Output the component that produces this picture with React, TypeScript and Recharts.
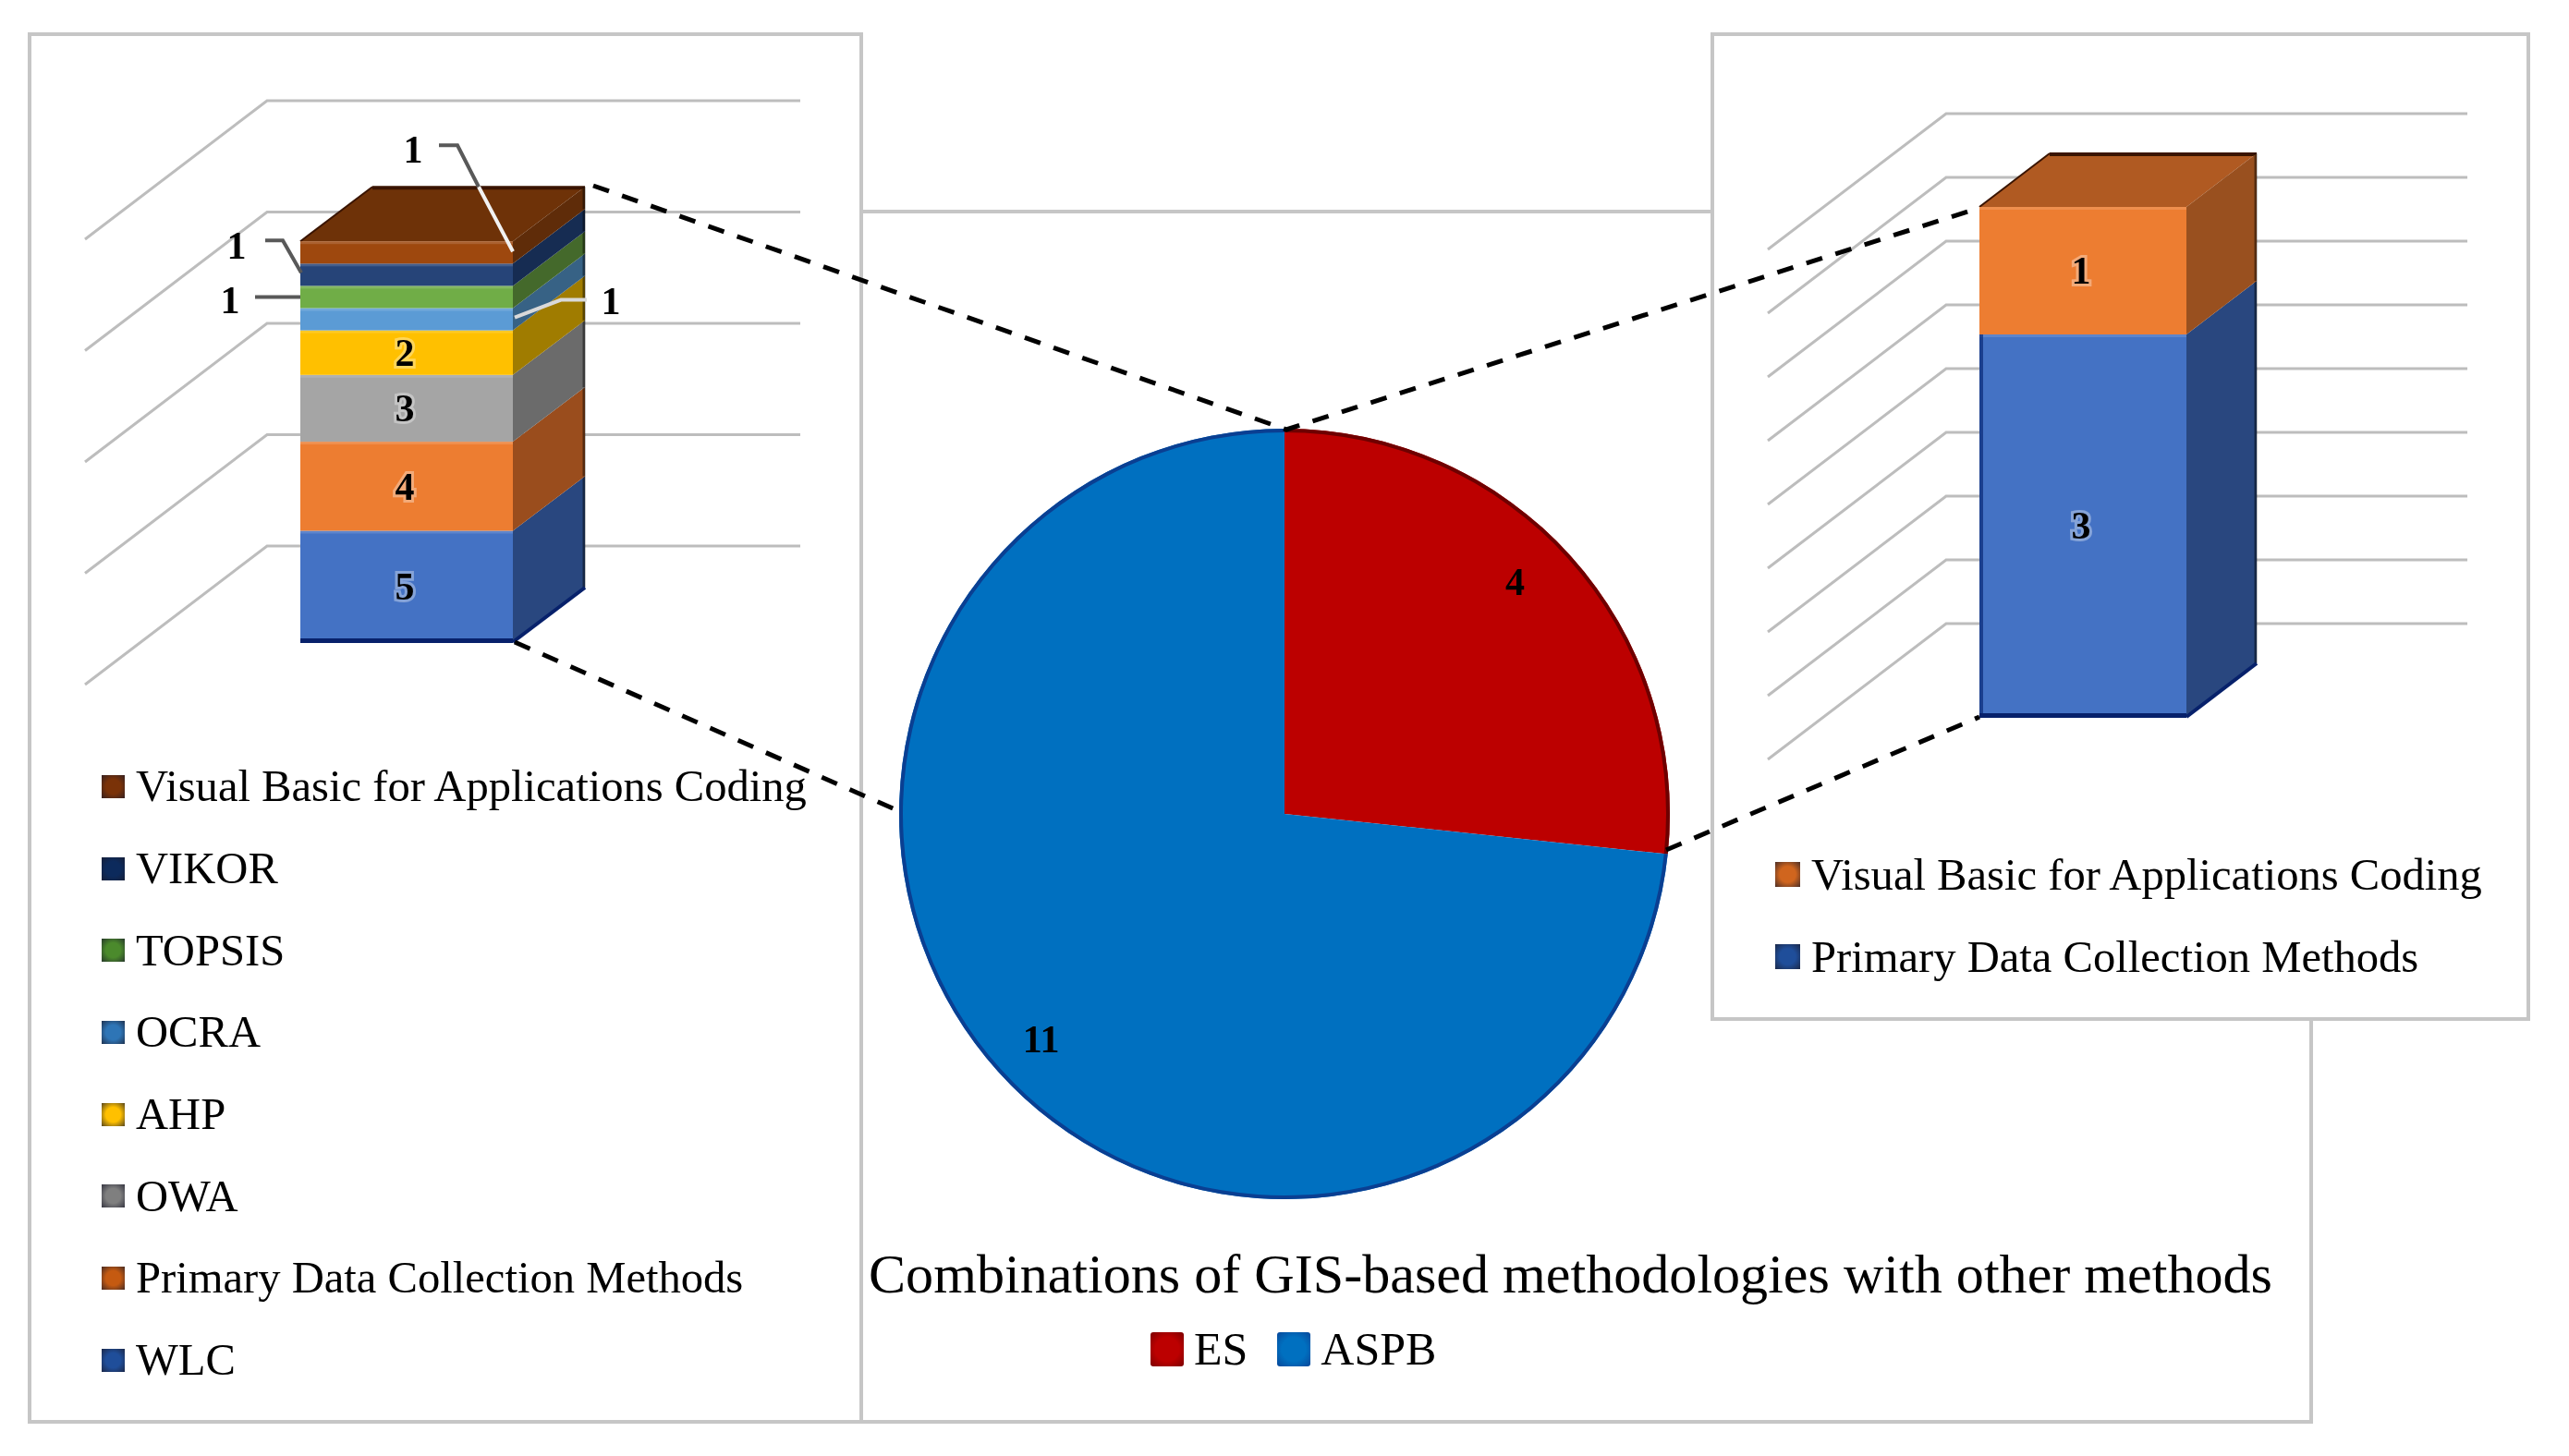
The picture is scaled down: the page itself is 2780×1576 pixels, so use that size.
import React from "react";
import {
  BarChart,
  Bar,
  XAxis,
  YAxis,
  CartesianGrid,
  LabelList,
  Legend,
  PieChart,
  Pie,
  Cell,
} from "recharts";

// main pie
const pieNames = ["ES", "ASPB"];
const pieValues = [4, 11];
const pieColors = ["#BC0000", "#0070C0"];
const pieRimColors = ["#6E0000", "#0A3F92"];
const pieLabelShift = [[-14, -14], [0, 7]];
const pieTitle = "Combinations of GIS-based methodologies with other methods";

// left stacked bar, bottom to top
const leftMethods = [
  "WLC",
  "Primary Data Collection Methods",
  "OWA",
  "AHP",
  "OCRA",
  "TOPSIS",
  "VIKOR",
  "Visual Basic for Applications Coding",
];
const leftValues = [5, 4, 3, 2, 1, 1, 1, 1];
const leftFront = ["#4472C4", "#ED7D31", "#A5A5A5", "#FFC000", "#5B9BD5", "#70AD47", "#264478", "#9E480E"];
const leftSide = ["#29477F", "#9A4D1D", "#6B6B6B", "#A07C00", "#376285", "#44692B", "#162C52", "#5F2C09"];
const leftSwatch = ["#1F4E9A", "#C55A11", "#7F7F7F", "#FFC000", "#2E75B6", "#4B8A2C", "#0C2A5C", "#7A3208"];
const leftTicks = [0, 5, 10, 15, 20];

// right stacked bar, bottom to top
const rightMethods = ["Primary Data Collection Methods", "Visual Basic for Applications Coding"];
const rightValues = [3, 1];
const rightFront = ["#4472C4", "#ED7D31"];
const rightSide = ["#29477F", "#99501F"];
const rightSwatch = ["#1F4E9A", "#D0651E"];
const rightTicks = [0, 0.5, 1, 1.5, 2, 2.5, 3, 3.5, 4];

const GRID = "#BDBDBD";
const FONT = "'Liberation Serif', serif";

const leftRow: any = { name: "methods" };
leftMethods.forEach((m, i) => (leftRow[m] = leftValues[i]));
const rightRow: any = { name: "methods" };
rightMethods.forEach((m, i) => (rightRow[m] = rightValues[i]));
const pieData = pieNames.map((name, i) => ({ name, value: pieValues[i] }));

// leader lines for the small segments, offsets from the segment centre
const leaders: any = {
  "Visual Basic for Applications Coding": {
    label: [7, -112],
    parts: [
      { color: "#595959", pts: [[35, -116], [55, -116], [78, -71]] },
      { color: "#F2F2F2", pts: [[78, -71], [115, -1]] },
    ],
  },
  VIKOR: { label: [-184, -32], parts: [{ color: "#595959", pts: [[-153, -37], [-134, -37], [-114, -2]] }] },
  TOPSIS: { label: [-191, 3], parts: [{ color: "#595959", pts: [[-164, 0], [-115, 0]] }] },
  OCRA: { label: [221, -20], parts: [{ color: "#D9D9D9", pts: [[195, -21], [167, -21], [117, -2]] }] },
};

// gridline drawn on the back wall plus its diagonal along the floor
function wallGrid(startX: number, endX: number, up: number, slantX: number, slantY: number) {
  return (props: any) => {
    const y = props.y1 - up;
    return (
      <path
        key={props.key ?? props.index ?? y}
        d={`M${startX + slantX},${y + slantY}L${startX},${y}L${endX},${y}`}
        fill="none"
        stroke={GRID}
        strokeWidth={3}
      />
    );
  };
}

// one stacked segment as a box: front, right side and, for the last one, the lid
function boxShape(side: string, lid: string | null, dx: number, dy: number, first: boolean, leftEdge: boolean) {
  return (props: any) => {
    const { x, y, width, height, fill } = props;
    const r = x + width;
    const b = y + height;
    return (
      <g>
        {lid && <polygon points={`${x},${y} ${x + dx},${y - dy} ${r + dx},${y - dy} ${r},${y}`} fill={lid} />}
        {lid && <line x1={x + dx} y1={y - dy + 1} x2={r + dx} y2={y - dy + 1} stroke="#3A1400" strokeWidth={4} />}
        {lid && <line x1={x} y1={y} x2={x + dx} y2={y - dy} stroke="#3A1400" strokeWidth={2} />}
        <polygon points={`${r},${y} ${r + dx},${y - dy} ${r + dx},${b - dy} ${r},${b}`} fill={side} />
        <line x1={r + dx - 1} y1={y - dy} x2={r + dx - 1} y2={b - dy} stroke="#000" strokeOpacity={0.45} strokeWidth={3} />
        <rect x={x} y={y} width={width} height={height} fill={fill} />
        <rect x={x} y={y} width={width} height={3} fill="#fff" fillOpacity={0.14} />
        {leftEdge && <rect x={x} y={y} width={4} height={height} fill="#0A2A78" fillOpacity={first ? 0.7 : 0} />}
        {first && <rect x={x} y={b - 4} width={width} height={5} fill="#07216B" />}
        {first && <line x1={r} y1={b} x2={r + dx} y2={b - dy} stroke="#07216B" strokeWidth={4} />}
      </g>
    );
  };
}

function segmentLabel(method: string, bold: boolean) {
  return (props: any) => {
    const { x, y, width, height, value } = props;
    const cx = x + width / 2;
    const cy = y + height / 2;
    const lead = leaders[method];
    const tx = lead ? cx + lead.label[0] : cx - 2;
    const ty = lead ? cy + lead.label[1] : cy;
    return (
      <g>
        {lead &&
          lead.parts.map((p: any, i: number) => (
            <polyline
              key={i}
              points={p.pts.map((q: number[]) => `${cx + q[0]},${cy + q[1]}`).join(" ")}
              fill="none"
              stroke={p.color}
              strokeWidth={4}
            />
          ))}
        <text
          x={tx}
          y={ty}
          dy="0.34em"
          textAnchor="middle"
          fontFamily={FONT}
          fontSize={42}
          fontWeight={bold ? "bold" : "normal"}
          fill="#000"
          stroke={lead ? "none" : "rgba(255,255,255,0.35)"}
          strokeWidth={lead ? 0 : 6}
          style={{ paintOrder: "stroke" }}
        >
          {value}
        </text>
      </g>
    );
  };
}

function methodLegend(names: string[], swatches: string[], rowHeight: number, swatchW: number) {
  return (props: any) => {
    const items = [...(props.payload || [])].reverse();
    return (
      <div style={{ fontFamily: FONT, fontSize: 48.6, color: "#000", whiteSpace: "nowrap" }}>
        {items.map((it: any) => (
          <div key={it.value} style={{ display: "flex", alignItems: "center", height: rowHeight }}>
            <span
              style={{
                display: "inline-block",
                width: swatchW,
                height: swatchW,
                marginRight: 12,
                background: `radial-gradient(circle, ${swatches[names.indexOf(it.value)]} 45%, #1a1a2a 120%)`,
              }}
            />
            {it.value}
          </div>
        ))}
      </div>
    );
  };
}

function pieLegend() {
  return (
    <div style={{ display: "flex", alignItems: "center", fontFamily: FONT, fontSize: 50, color: "#000" }}>
      {pieNames.map((n, i) => (
        <React.Fragment key={n}>
          <span
            style={{
              display: "inline-block",
              width: 36,
              height: 37,
              marginRight: 11,
              borderRadius: 3,
              background: `radial-gradient(circle, ${pieColors[i]} 50%, ${pieRimColors[i]} 110%)`,
            }}
          />
          <span style={{ marginRight: i === 0 ? 32 : 0 }}>{n}</span>
        </React.Fragment>
      ))}
    </div>
  );
}

function pieLabel(props: any) {
  const { cx, cy, midAngle, outerRadius, value, index } = props;
  const r = outerRadius * 0.85;
  const a = (-midAngle * Math.PI) / 180;
  return (
    <text
      x={cx + r * Math.cos(a) + pieLabelShift[index][0]}
      y={cy + r * Math.sin(a) + pieLabelShift[index][1]}
      dy="0.34em"
      textAnchor="middle"
      fontFamily={FONT}
      fontSize={42}
      fontWeight="bold"
      fill="#000"
    >
      {value}
    </text>
  );
}

const boxStyle = (left: number, top: number, width: number, height: number): React.CSSProperties => ({
  position: "absolute",
  left,
  top,
  width,
  height,
  background: "#fff",
  boxShadow: "inset 0 0 0 4px #C6C6C6",
});

export default function App() {
  return (
    <div
      style={{
        position: "absolute",
        left: 0,
        top: 0,
        width: 2780,
        height: 1576,
        background: "#fff",
        filter: "blur(0.6px)",
      }}
    >
      {/* pie panel, its left edge sits under the left panel */}
      <div style={boxStyle(929, 227, 1574, 1314)}>
        <PieChart width={1574} height={1314} margin={{ top: 0, right: 0, bottom: 0, left: 0 }}>
          <Pie
            data={pieData}
            dataKey="value"
            nameKey="name"
            cx={461}
            cy={654}
            outerRadius={417}
            startAngle={90}
            endAngle={-270}
            stroke="none"
            label={pieLabel}
            labelLine={false}
            isAnimationActive={false}
          >
            {pieData.map((d, i) => (
              <Cell key={d.name} fill={pieColors[i]} />
            ))}
          </Pie>
          <Pie
            data={pieData}
            dataKey="value"
            cx={461}
            cy={654}
            innerRadius={413}
            outerRadius={417}
            startAngle={90}
            endAngle={-270}
            stroke="none"
            legendType="none"
            isAnimationActive={false}
          >
            {pieData.map((d, i) => (
              <Cell key={d.name} fill={pieRimColors[i]} />
            ))}
          </Pie>
          <text
            x={11}
            y={1172}
            fontFamily={FONT}
            fontSize={60}
            fill="#000"
            textLength={1519}
            lengthAdjust="spacingAndGlyphs"
          >
            {pieTitle}
          </text>
          <Legend
            layout="vertical"
            align="center"
            verticalAlign="middle"
            content={pieLegend}
            wrapperStyle={{ left: 316, top: 1204, width: "auto" }}
          />
        </PieChart>
      </div>

      {/* left panel */}
      <div style={boxStyle(30, 35, 904, 1506)}>
        <BarChart
          width={904}
          height={1506}
          data={[leftRow]}
          margin={{ top: 178, right: 84, bottom: 846, left: 0 }}
        >
          <CartesianGrid vertical={false} horizontal={wallGrid(259, 836, 104, -197, 150)} />
          <XAxis dataKey="name" hide />
          <YAxis hide domain={[0, 20]} ticks={leftTicks} />
          {leftMethods.map((m, i) => (
            <Bar
              key={m}
              dataKey={m}
              stackId="a"
              barSize={230}
              fill={leftFront[i]}
              shape={boxShape(leftSide[i], i === leftMethods.length - 1 ? "#6E3208" : null, 78, 59, i === 0, false)}
              isAnimationActive={false}
            >
              <LabelList dataKey={m} content={segmentLabel(m, true)} />
            </Bar>
          ))}
          <Legend
            layout="vertical"
            align="center"
            verticalAlign="middle"
            itemSorter={null}
            content={methodLegend(leftMethods, leftSwatch, 88.7, 25)}
            wrapperStyle={{ left: 80, top: 772, width: "auto" }}
          />
        </BarChart>
      </div>

      {/* right panel */}
      <div style={boxStyle(1851, 35, 887, 1070)}>
        <BarChart
          width={887}
          height={1070}
          data={[rightRow]}
          margin={{ top: 189, right: 83, bottom: 329, left: 2 }}
        >
          <CartesianGrid vertical={false} horizontal={wallGrid(255, 819, 101, -193, 147)} />
          <XAxis dataKey="name" hide />
          <YAxis hide domain={[0, 4]} ticks={rightTicks} />
          {rightMethods.map((m, i) => (
            <Bar
              key={m}
              dataKey={m}
              stackId="a"
              barSize={224}
              fill={rightFront[i]}
              shape={boxShape(rightSide[i], i === rightMethods.length - 1 ? "#B05A22" : null, 76, 58, i === 0, true)}
              isAnimationActive={false}
            >
              <LabelList dataKey={m} content={segmentLabel("", true)} />
            </Bar>
          ))}
          <Legend
            layout="vertical"
            align="center"
            verticalAlign="middle"
            itemSorter={null}
            content={methodLegend(rightMethods, rightSwatch, 89, 27)}
            wrapperStyle={{ left: 70, top: 867, width: "auto" }}
          />
        </BarChart>
      </div>

      {/* dashed connectors from the pie to the two breakdown bars */}
      <svg width={2780} height={1576} style={{ position: "absolute", left: 0, top: 0, pointerEvents: "none" }}>
        <g stroke="#000" strokeWidth={5} strokeDasharray="18 15" fill="none">
          <polyline points="642,201 1392,465 2142,225" />
          <line x1={557} y1={695} x2={973} y2={878} />
          <line x1={1803} y1={920} x2={2142} y2={776} />
        </g>
      </svg>
    </div>
  );
}
